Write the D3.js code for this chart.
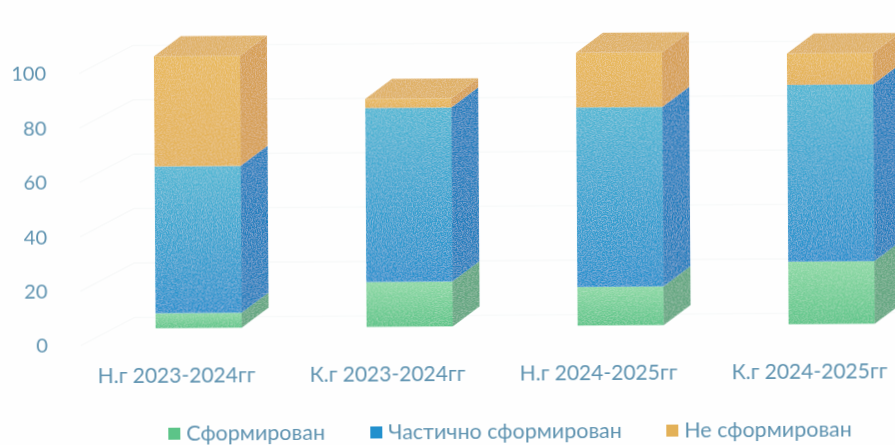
<!DOCTYPE html>
<html>
<head>
<meta charset="utf-8">
<script src="https://cdn.jsdelivr.net/npm/d3@7"></script>
<style>
  html, body { margin: 0; padding: 0; background: #fefefe; overflow: hidden; }
  text { font-family: Lato, "Noto Sans", sans-serif; fill: #5f93b0; }
</style>
</head>
<body>
<div id="plot"></div>
<script>
// Values
const categories = ["Н.г 2023-2024гг", "К.г 2023-2024гг", "Н.г 2024-2025гг", "К.г 2024-2025гг"];
const seriesNames = ["Сформирован", "Частично сформирован", "Не сформирован"];
const formed = [5.5, 16.5, 14.2, 23];
const partly = [54, 64, 66, 65];
const notFormed = [40.5, 3.3, 20, 11.5];
const yTicks = [0, 20, 40, 60, 80, 100];

const w = 895;
const h = 445;
const depth = { x: 27, y: 20 };

const svg = d3.select("div#plot").append("svg")
  .attr("width", w)
  .attr("height", h);

const defs = svg.append("defs");

// Print grain on the faces
const grain = defs.append("filter").attr("id", "grain")
  .attr("x", 0).attr("y", 0).attr("width", 1).attr("height", 1);
grain.append("feTurbulence")
  .attr("type", "fractalNoise").attr("baseFrequency", 0.8).attr("numOctaves", 2).attr("seed", 4)
  .attr("result", "noise");
grain.append("feColorMatrix").attr("in", "noise").attr("type", "matrix")
  .attr("values", "0 0 0 0 1  0 0 0 0 1  0 0 0 0 1  0.6 0 0 0 -0.24")
  .attr("result", "speck");
grain.append("feComposite").attr("in", "speck").attr("in2", "SourceAlpha").attr("operator", "in").attr("result", "clipped");
grain.append("feMerge").selectAll("feMergeNode")
  .data(["SourceGraphic", "clipped"]).enter().append("feMergeNode").attr("in", d => d);

const soft = defs.append("filter").attr("id", "soft");
soft.append("feGaussianBlur").attr("stdDeviation", 0.35);

// Face colours: front gradient top/bottom, side, top
const faces = [
  { id: "f0", hi: "#8cd8a4", lo: "#5cc488", side: "#62a680", top: "#8cd8a4" },
  { id: "f1", hi: "#52b7d3", lo: "#2190cd", side: "#1c7fbe", top: "#52b7d3" },
  { id: "f2", hi: "#e8b95c", lo: "#e3b158", side: "#d69f52", top: "#dfb064" }
];
faces.forEach(f => {
  const g = defs.append("linearGradient").attr("id", f.id)
    .attr("x1", 0).attr("y1", 0).attr("x2", 0).attr("y2", 1);
  g.append("stop").attr("offset", "0%").attr("stop-color", f.hi);
  g.append("stop").attr("offset", "100%").attr("stop-color", f.lo);
});

// The scan is very slightly tilted
const chart = svg.append("g").attr("transform", `rotate(-0.36 ${w / 2} ${h / 2})`);

// Scales
const xScale = d3.scaleBand().domain(categories).range([92.5, 936.5])
  .paddingInner(0.592).paddingOuter(0.296);
const yScale = d3.scaleLinear().domain([0, 100]).range([326.4, 54.4]);

// Faint grid, back wall and left wall
const grid = chart.append("g").attr("filter", "url(#soft)");
grid.selectAll("path").data(yTicks).enter().append("path")
  .attr("fill", "none")
  .attr("stroke", "#f8f9f9")
  .attr("stroke-width", 1.5)
  .attr("d", d => d3.line()([
    [80, yScale(d) + 17],
    [80 + depth.x * 2, yScale(d) + 17 - depth.y * 1.4],
    [w + 20, yScale(d) + 17 - depth.y * 1.4]
  ]));

// Y axis
const yAxis = chart.append("g")
  .attr("transform", "translate(47, 17)")
  .attr("filter", "url(#soft)")
  .call(d3.axisLeft(yScale).tickValues(yTicks).tickSize(0).tickPadding(0));
yAxis.select(".domain").remove();
yAxis.selectAll("text").attr("font-size", 20).style("font-family", null);

// X axis
const xAxis = chart.append("g")
  .attr("transform", "translate(-22.5, 366)")
  .attr("filter", "url(#soft)")
  .call(d3.axisBottom(xScale).tickSize(0).tickPadding(0));
xAxis.select(".domain").remove();
xAxis.selectAll("text").attr("font-size", 21).style("font-family", null);

// Stacked columns
const rows = categories.map((c, i) => ({ cat: c, s0: formed[i], s1: partly[i], s2: notFormed[i] }));
const stacked = d3.stack().keys(["s0", "s1", "s2"])(rows);

const bars = chart.append("g").attr("filter", "url(#grain)");
const layers = bars.selectAll("g").data(stacked).enter().append("g");

// side faces
layers.selectAll(".side").data((s, i) => s.map(d => ({ d, i }))).enter().append("path")
  .attr("class", "side")
  .attr("fill", v => faces[v.i].side)
  .attr("d", v => {
    const x = xScale(v.d.data.cat) + xScale.bandwidth();
    return d3.line()([
      [x, yScale(v.d[0])],
      [x + depth.x, yScale(v.d[0]) - depth.y],
      [x + depth.x, yScale(v.d[1]) - depth.y],
      [x, yScale(v.d[1])]
    ]) + "Z";
  });

// front faces
layers.selectAll(".front").data((s, i) => s.map(d => ({ d, i }))).enter().append("rect")
  .attr("class", "front")
  .attr("x", v => xScale(v.d.data.cat))
  .attr("y", v => yScale(v.d[1]))
  .attr("width", xScale.bandwidth())
  .attr("height", v => yScale(v.d[0]) - yScale(v.d[1]))
  .attr("fill", v => `url(#${faces[v.i].id})`);

// top faces, only on the last series
bars.append("g").selectAll("path").data(stacked[2]).enter().append("path")
  .attr("fill", faces[2].top)
  .attr("d", d => {
    const x = xScale(d.data.cat);
    const y = yScale(d[1]);
    return d3.line()([
      [x, y],
      [x + depth.x, y - depth.y],
      [x + xScale.bandwidth() + depth.x, y - depth.y],
      [x + xScale.bandwidth(), y]
    ]) + "Z";
  });

// Legend
const legendX = [167, 369, 665];
const legend = chart.append("g").attr("filter", "url(#soft)");
const items = legend.selectAll("g").data(seriesNames).enter().append("g")
  .attr("transform", (d, i) => `translate(${legendX[i]}, 426)`);
items.append("rect")
  .attr("width", 12).attr("height", 12)
  .attr("fill", (d, i) => faces[i].lo);
items.append("text")
  .attr("x", 18).attr("y", 13)
  .attr("font-size", 21.5)
  .text(d => d);
</script>
</body>
</html>
